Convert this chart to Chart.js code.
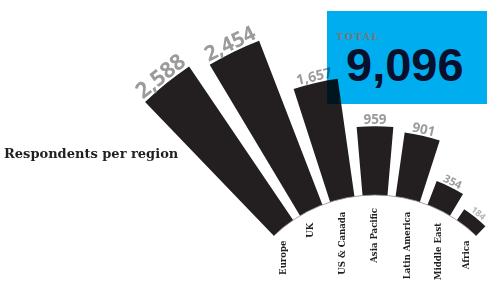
<!DOCTYPE html>
<html>
<head>
<meta charset="utf-8">
<script src="https://cdn.jsdelivr.net/npm/chart.js@4/dist/chart.umd.min.js"></script>
<style>
  html, body { margin: 0; padding: 0; background: #fff; }
  #wrap { position: relative; width: 500px; height: 298px; overflow: hidden; }
  #chart { position: absolute; }
  #title { position: absolute; left: 4px; top: 146px; font: bold 13px "DejaVu Serif"; color: #231f20; white-space: nowrap; }
  #total { position: absolute; left: 327px; top: 11px; width: 160px; height: 93px; background: #00aeef; mix-blend-mode: multiply; }
  #total .lbl { position: absolute; left: 9px; top: 20px; font: bold 10px "DejaVu Serif"; color: #777; letter-spacing: 1.2px; }
  #total .num { position: absolute; left: 19px; top: 26px; font: bold 47px "Liberation Sans"; color: #0a0f2c; }
</style>
</head>
<body>
<div id="wrap">
  <canvas id="chart" width="800" height="800"></canvas>
  <div id="title">Respondents per region</div>
  <div id="total"><span class="lbl">TOTAL</span><span class="num">9,096</span></div>
</div>
<script>
const regions = ["Europe", "UK", "US & Canada", "Asia Pacific", "Latin America", "Middle East", "Africa"];
const respondents = [2588, 2454, 1657, 959, 901, 354, 184];

// look of the fan
const valueFontSizes = [22, 21, 14, 13.5, 13.5, 11, 9];
const barColor = "#231f20";
const CX = 375;          // fan centre, page coords
const CY = 341;
const SIZE = 800;        // canvas is bigger than the page, centre sits below it
const INNER = 146;       // px radius where a value of 0 sits
const PX_PER_UNIT = 0.0717;
const BAR_DEG = 9.8;
const GAP_DEG = 3.2;

const canvas = document.getElementById("chart");
canvas.style.left = (CX - SIZE / 2) + "px";
canvas.style.top = (CY - SIZE / 2) + "px";

const rMin = -INNER / PX_PER_UNIT;
const rMax = rMin + (SIZE / 2) / PX_PER_UNIT;

// bars with an empty slot between each pair to leave the gaps
const fanData = [];
const fanColors = [];
respondents.forEach((v, i) => {
  if (i > 0) {
    fanData.push(rMin);
    fanColors.push("rgba(0,0,0,0)");
  }
  fanData.push(v);
  fanColors.push(barColor);
});

const startDeg = -(respondents.length * BAR_DEG + (respondents.length - 1) * GAP_DEG) / 2;

const fanLabels = {
  id: "fanLabels",
  afterDatasetsDraw(chart) {
    const ctx = chart.ctx;
    const scale = chart.scales.r;
    const cx = scale.xCenter;
    const cy = scale.yCenter;
    const r0 = scale.getDistanceFromCenterForValue(0);
    const arcs = chart.getDatasetMeta(0).data;

    ctx.save();
    // hide the part of the wedges below zero
    ctx.fillStyle = "#fff";
    ctx.beginPath();
    ctx.arc(cx, cy, r0, 0, Math.PI * 2);
    ctx.fill();

    ctx.strokeStyle = "#8c8c8c";
    ctx.lineWidth = 0.8;
    ctx.beginPath();
    ctx.arc(cx, cy, r0, arcs[0].startAngle, arcs[arcs.length - 1].endAngle);
    ctx.stroke();

    regions.forEach((name, i) => {
      const arc = arcs[i * 2];
      const mid = (arc.startAngle + arc.endAngle) / 2;

      // value at the tip
      const rr = arc.outerRadius + 2;
      ctx.save();
      ctx.translate(cx + Math.cos(mid) * rr, cy + Math.sin(mid) * rr);
      ctx.rotate(mid + Math.PI / 2);
      ctx.fillStyle = i === respondents.length - 1 ? "#b4b4b4" : "#9b9b9b";
      ctx.font = "bold " + valueFontSizes[i] + "px 'Open Sans'";
      ctx.textAlign = "center";
      ctx.textBaseline = "alphabetic";
      ctx.fillText(respondents[i].toLocaleString("en-US"), 0, 0);
      ctx.restore();

      // region name under the arc
      ctx.save();
      ctx.translate(cx + Math.cos(mid) * r0, cy + Math.sin(mid) * r0 + 13);
      ctx.rotate(-Math.PI / 2);
      ctx.fillStyle = "#231f20";
      ctx.font = "bold 9.5px 'DejaVu Serif Condensed', 'DejaVu Serif'";
      ctx.textAlign = "right";
      ctx.textBaseline = "middle";
      ctx.fillText(name, 0, 0);
      ctx.restore();
    });
    ctx.restore();
  }
};

new Chart(canvas, {
  type: "polarArea",
  data: {
    labels: fanData.map((v, i) => (i % 2 ? "" : regions[i / 2])),
    datasets: [{
      data: fanData,
      backgroundColor: fanColors,
      borderWidth: 0,
      angle: (c) => (c.dataIndex % 2 ? GAP_DEG : BAR_DEG),
    }],
  },
  options: {
    responsive: false,
    animation: false,
    layout: { padding: 0 },
    plugins: { legend: { display: false }, tooltip: { enabled: false } },
    scales: {
      r: {
        min: rMin,
        max: rMax,
        startAngle: startDeg,
        grid: { display: false },
        angleLines: { display: false },
        pointLabels: { display: false },
        ticks: { display: false },
      },
    },
  },
  plugins: [fanLabels],
});
</script>
</body>
</html>
